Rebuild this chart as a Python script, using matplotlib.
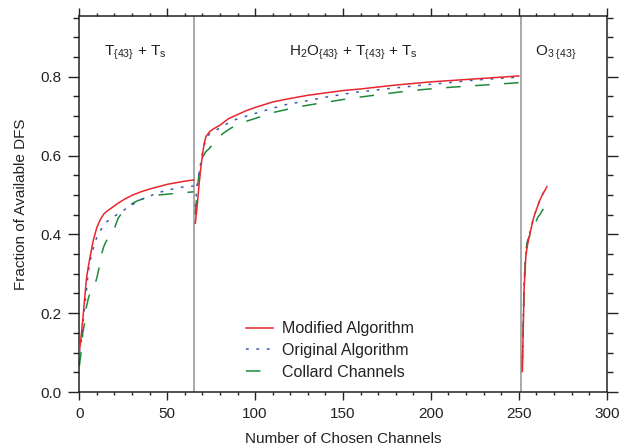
import matplotlib
matplotlib.use("Agg")
import matplotlib.pyplot as plt
from matplotlib.ticker import MultipleLocator, FormatStrFormatter

plt.rcParams['font.family'] = ['Liberation Sans', 'DejaVu Sans']
plt.rcParams['mathtext.fontset'] = 'custom'
plt.rcParams['mathtext.rm'] = 'Liberation Sans'
plt.rcParams['mathtext.it'] = 'Liberation Sans:italic'

# ---------------- data ----------------
# Segment 1: T{43} + Ts
mod1_x = [0, 1, 2, 3, 4, 5, 6, 8, 10, 12, 14, 16, 18, 22, 26, 30, 35, 40, 45, 50, 55, 60, 65]
mod1_y = [0.10, 0.14, 0.185, 0.235, 0.285, 0.315, 0.34, 0.386, 0.418, 0.438, 0.452, 0.46, 0.466,
          0.479, 0.49, 0.499, 0.508, 0.515, 0.521, 0.527, 0.531, 0.535, 0.538]
orig1_x = [0, 1, 2, 3, 4, 5, 6, 8, 10, 12, 15, 18, 21, 24, 28, 32, 36, 40, 45, 50, 55, 60, 65]
orig1_y = [0.10, 0.125, 0.17, 0.215, 0.255, 0.30, 0.33, 0.365, 0.394, 0.41, 0.43, 0.44, 0.449,
           0.457, 0.47, 0.48, 0.49, 0.497, 0.506, 0.512, 0.517, 0.521, 0.523]
col1_x = [0, 1, 2, 3, 4, 5, 6, 7, 8, 9, 10, 11, 12, 13, 14, 15, 16, 18, 20, 21, 22, 23, 24,
          26, 28, 30, 33, 36, 40, 45, 50, 55, 60, 65]
col1_y = [0.065, 0.10, 0.15, 0.175, 0.215, 0.235, 0.25, 0.26, 0.268, 0.275, 0.29, 0.31, 0.33,
          0.355, 0.37, 0.38, 0.388, 0.40, 0.415, 0.428, 0.44, 0.447, 0.452, 0.462, 0.47, 0.478,
          0.485, 0.49, 0.495, 0.50, 0.502, 0.504, 0.506, 0.508]

# Segment 2: H2O{43} + T{43} + Ts
mod2_x = [66, 67, 68, 69, 70, 71, 72, 74, 76, 80, 85, 90, 95, 100, 110, 120, 130, 140, 150, 160,
          170, 180, 190, 200, 210, 220, 230, 240, 250]
mod2_y = [0.428, 0.47, 0.52, 0.565, 0.60, 0.63, 0.648, 0.66, 0.667, 0.677, 0.694, 0.704, 0.714,
          0.722, 0.736, 0.745, 0.753, 0.759, 0.765, 0.769, 0.774, 0.779, 0.783, 0.787, 0.79,
          0.793, 0.796, 0.799, 0.802]
orig2_x = [66, 67, 68, 69, 70, 71, 72, 74, 76, 78, 82, 88, 95, 103, 110, 116, 127, 140, 156, 170,
           191, 210, 226, 240, 250]
orig2_y = [0.47, 0.525, 0.55, 0.58, 0.605, 0.625, 0.64, 0.655, 0.661, 0.665, 0.676, 0.69, 0.70,
           0.711, 0.72, 0.728, 0.737, 0.748, 0.76, 0.767, 0.777, 0.785, 0.792, 0.796, 0.799]
col2_x = [66, 67, 68, 69, 70, 72, 74, 76, 79, 82, 86, 92, 100, 108, 117, 125, 137, 154, 171, 187,
          204, 220, 237, 250]
col2_y = [0.45, 0.51, 0.55, 0.58, 0.595, 0.61, 0.618, 0.63, 0.646, 0.657, 0.669, 0.683, 0.694,
          0.707, 0.716, 0.724, 0.733, 0.745, 0.755, 0.764, 0.771, 0.776, 0.781, 0.785]

# Segment 3: O3{43}
mod3_x = [252, 253, 254, 255, 256, 257, 258, 259, 260, 261, 262, 263, 264, 265, 266]
mod3_y = [0.052, 0.26, 0.345, 0.375, 0.395, 0.415, 0.435, 0.45, 0.463, 0.475, 0.487, 0.497,
          0.505, 0.513, 0.521]
orig3_x = [252, 253, 254, 255, 256, 257, 258, 259, 260, 261, 262, 263, 264, 265]
orig3_y = [0.06, 0.28, 0.35, 0.38, 0.40, 0.418, 0.436, 0.45, 0.463, 0.475, 0.487, 0.497,
           0.506, 0.514]
col3_x = [252, 253, 254, 255, 256, 257, 258, 259, 260, 261, 262, 263, 264, 265]
col3_y = [0.07, 0.27, 0.36, 0.385, 0.395, 0.405, 0.415, 0.425, 0.435, 0.445, 0.45, 0.458,
          0.465, 0.47]

boundaries = [65, 251]
region_labels = [r'T$_{\{43\}}$ + T$_{\mathrm{s}}$',
                 r'H$_2$O$_{\{43\}}$ + T$_{\{43\}}$ + T$_{\mathrm{s}}$',
                 r'O$_{3\ \{43\}}$']
region_label_x = [32, 156, 271]
series_names = ['Modified Algorithm', 'Original Algorithm', 'Collard Channels']

# ---------------- plot ----------------
fig = plt.figure(figsize=(6.21, 4.48), dpi=100)
ax = fig.add_axes([0.1277, 0.125, 0.977 - 0.1277, 0.965 - 0.125])

red = '#e8262c'
blue = '#3a58b0'
green = '#1e8a3c'
lw = 1.1

for b in boundaries:
    ax.axvline(b, color='#9a9a9a', lw=1.2, zorder=1)

segs = [(mod1_x, mod1_y, orig1_x, orig1_y, col1_x, col1_y),
        (mod2_x, mod2_y, orig2_x, orig2_y, col2_x, col2_y),
        (mod3_x, mod3_y, orig3_x, orig3_y, col3_x, col3_y)]
for i, (mx, my, ox, oy, cx, cy) in enumerate(segs):
    ax.plot(cx, cy, color=green, lw=lw, ls=(0, (9.5, 9.5)), zorder=2,
            label=series_names[2] if i == 0 else None)
    ax.plot(ox, oy, color=blue, lw=lw, ls=(0, (1.8, 5.0)), zorder=3,
            label=series_names[1] if i == 0 else None)
    ax.plot(mx, my, color=red, lw=lw, zorder=4,
            label=series_names[0] if i == 0 else None)

ax.set_xlim(0, 300)
ax.set_ylim(0, 0.955)
ax.xaxis.set_major_locator(MultipleLocator(50))
ax.xaxis.set_minor_locator(MultipleLocator(10))
ax.yaxis.set_major_locator(MultipleLocator(0.2))
ax.yaxis.set_minor_locator(MultipleLocator(0.05))
ax.yaxis.set_major_formatter(FormatStrFormatter('%.1f'))

ax.tick_params(axis='both', which='both', direction='out', top=True, right=True,
               labelsize=11, width=1.0, colors='#222222')
ax.tick_params(axis='y', which='major', length=8, pad=5)
ax.tick_params(axis='y', which='minor', length=4)
ax.tick_params(axis='x', which='major', length=5.5, pad=5)
ax.tick_params(axis='x', which='minor', length=2.5)
for sp in ax.spines.values():
    sp.set_linewidth(1.1)
    sp.set_color('#222222')

ax.set_xlabel('Number of Chosen Channels', fontsize=11, labelpad=8.5, color='#222222')
ax.set_ylabel('Fraction of Available DFS', fontsize=11, labelpad=9, color='#222222')

for lab, lx in zip(region_labels, region_label_x):
    ax.text(lx, 0.86, lab, ha='center', va='center', fontsize=11, color='#222222')

handles, labels = ax.get_legend_handles_labels()
order = [labels.index(n) for n in series_names]
leg = ax.legend([handles[k] for k in order], [labels[k] for k in order],
                loc='upper left', bbox_to_anchor=(0.317, 0.188), frameon=False,
                fontsize=11.5, borderpad=0, borderaxespad=0, handlelength=1.65,
                handletextpad=0.55, labelspacing=0.42)
for t in leg.get_texts():
    t.set_color('#222222')

fig.savefig('out.png', dpi=100)
